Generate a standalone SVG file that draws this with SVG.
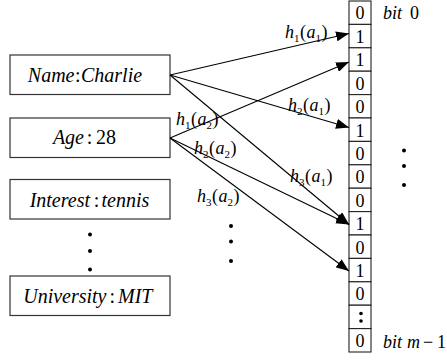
<svg xmlns="http://www.w3.org/2000/svg" width="447" height="360" viewBox="0 0 447 360">
<style>
  .box { fill: #fff; stroke: #333; stroke-width: 1.2; }
  .cell { fill: #fff; stroke: #222; stroke-width: 1.1; }
  .edge { stroke: #000; stroke-width: 1.1; fill: none; marker-end: url(#arr); }
</style>
<defs>
  <marker id="arr" markerUnits="userSpaceOnUse" markerWidth="14" markerHeight="10" refX="13" refY="5" orient="auto">
    <path d="M0,0 L13,5 L0,10 Z" fill="#000"/>
  </marker>
</defs>

<g id="node-name">
  <rect class="box" x="10" y="55" width="160" height="39.5"/>
  <text font-family="Liberation Serif" font-size="20" font-style="italic" x="74.5" y="81.5" text-anchor="end">Name</text>
  <text font-family="Liberation Serif" font-size="20" x="77.8" y="81.5" text-anchor="middle">:</text>
  <text font-family="Liberation Serif" font-size="20" font-style="italic" x="81" y="81.5">Charlie</text>
</g>
<g id="node-age">
  <rect class="box" x="10" y="118" width="160" height="39.5"/>
  <text font-family="Liberation Serif" font-size="20" font-style="italic" x="84" y="143.5" text-anchor="end">Age</text>
  <text font-family="Liberation Serif" font-size="20" x="89.5" y="143.5" text-anchor="middle">:</text>
  <text font-family="Liberation Serif" font-size="20" x="96" y="143.5">28</text>
</g>
<g id="node-interest">
  <rect class="box" x="10" y="179.5" width="160" height="39.5"/>
  <text font-family="Liberation Serif" font-size="20" font-style="italic" x="90" y="206.5" text-anchor="end">Interest</text>
  <text font-family="Liberation Serif" font-size="20" x="96.5" y="206.5" text-anchor="middle">:</text>
  <text font-family="Liberation Serif" font-size="20" font-style="italic" x="101.5" y="206.5">tennis</text>
</g>
<g id="node-university">
  <rect class="box" x="10" y="276" width="160" height="39.5"/>
  <text font-family="Liberation Serif" font-size="20" font-style="italic" x="106.5" y="302.5" text-anchor="end">University</text>
  <text font-family="Liberation Serif" font-size="20" x="112.3" y="302.5" text-anchor="middle">:</text>
  <text font-family="Liberation Serif" font-size="20" font-style="italic" x="118" y="302.5">MIT</text>
</g>

<g id="dots" fill="#000">
  <circle cx="90" cy="234.5" r="2"/>
  <circle cx="90" cy="251" r="2"/>
  <circle cx="90" cy="269.5" r="2"/>
  <circle cx="231" cy="226" r="2"/>
  <circle cx="231" cy="241.5" r="2"/>
  <circle cx="231" cy="261" r="2"/>
  <circle cx="404" cy="150.5" r="2"/>
  <circle cx="404" cy="166" r="2"/>
  <circle cx="404" cy="185" r="2"/>
</g>

<g id="bit-array">
  <rect class="cell" x="349" y="1" width="22" height="23.4"/>
  <rect class="cell" x="349" y="24.4" width="22" height="23.4"/>
  <rect class="cell" x="349" y="47.8" width="22" height="23.4"/>
  <rect class="cell" x="349" y="71.2" width="22" height="23.4"/>
  <rect class="cell" x="349" y="94.6" width="22" height="23.4"/>
  <rect class="cell" x="349" y="118" width="22" height="23.4"/>
  <rect class="cell" x="349" y="141.4" width="22" height="23.4"/>
  <rect class="cell" x="349" y="164.8" width="22" height="23.4"/>
  <rect class="cell" x="349" y="188.2" width="22" height="23.4"/>
  <rect class="cell" x="349" y="211.6" width="22" height="23.4"/>
  <rect class="cell" x="349" y="235" width="22" height="23.4"/>
  <rect class="cell" x="349" y="258.4" width="22" height="23.4"/>
  <rect class="cell" x="349" y="281.8" width="22" height="23.4"/>
  <rect class="cell" x="349" y="305.2" width="22" height="23.4"/>
  <rect class="cell" x="349" y="328.6" width="22" height="23.4"/>
  <text font-family="Liberation Serif" font-size="18" text-anchor="middle" x="360" y="19">0</text>
  <text font-family="Liberation Serif" font-size="18" text-anchor="middle" x="360" y="43">1</text>
  <text font-family="Liberation Serif" font-size="18" text-anchor="middle" x="360" y="66">1</text>
  <text font-family="Liberation Serif" font-size="18" text-anchor="middle" x="360" y="89.5">0</text>
  <text font-family="Liberation Serif" font-size="18" text-anchor="middle" x="360" y="113">0</text>
  <text font-family="Liberation Serif" font-size="18" text-anchor="middle" x="360" y="136.5">1</text>
  <text font-family="Liberation Serif" font-size="18" text-anchor="middle" x="360" y="160">0</text>
  <text font-family="Liberation Serif" font-size="18" text-anchor="middle" x="360" y="183">0</text>
  <text font-family="Liberation Serif" font-size="18" text-anchor="middle" x="360" y="206.5">0</text>
  <text font-family="Liberation Serif" font-size="18" text-anchor="middle" x="360" y="230">1</text>
  <text font-family="Liberation Serif" font-size="18" text-anchor="middle" x="360" y="253.5">0</text>
  <text font-family="Liberation Serif" font-size="18" text-anchor="middle" x="360" y="277">1</text>
  <text font-family="Liberation Serif" font-size="18" text-anchor="middle" x="360" y="300">0</text>
  <text font-family="Liberation Serif" font-size="18" text-anchor="middle" x="360" y="347">0</text>
  <circle cx="361" cy="313.5" r="1.8"/>
  <circle cx="361" cy="321" r="1.8"/>
  <text font-family="Liberation Serif" font-size="18" font-style="italic" x="383" y="19">bit</text>
  <text font-family="Liberation Serif" font-size="18" x="410" y="19">0</text>
  <text font-family="Liberation Serif" font-size="18" font-style="italic" x="383" y="348">bit</text>
  <text font-family="Liberation Serif" font-size="18" font-style="italic" x="407" y="348">m</text>
  <text font-family="Liberation Serif" font-size="18" x="423" y="348">−</text>
  <text font-family="Liberation Serif" font-size="18" x="437" y="348">1</text>
</g>

<g id="connectors">
  <line class="edge" x1="170" y1="75" x2="349" y2="33.5"/>
  <line class="edge" x1="170" y1="75" x2="349" y2="127.5"/>
  <line class="edge" x1="170" y1="75" x2="349" y2="224.5"/>
  <line class="edge" x1="170" y1="138" x2="349" y2="62"/>
  <line class="edge" x1="170" y1="138" x2="349" y2="224.5"/>
  <line class="edge" x1="170" y1="138" x2="349" y2="271"/>
</g>

<g id="edge-labels">
  <g transform="translate(285,38)">
    <text font-family="Liberation Serif" font-size="18" font-style="italic" x="0" y="0">h</text>
    <text font-family="Liberation Serif" font-size="11" x="9" y="4">1</text>
    <text font-family="Liberation Serif" font-size="18" x="15" y="0">(</text>
    <text font-family="Liberation Serif" font-size="18" font-style="italic" x="21.5" y="0">a</text>
    <text font-family="Liberation Serif" font-size="11" x="30.5" y="4">1</text>
    <text font-family="Liberation Serif" font-size="18" x="36.5" y="0">)</text>
  </g>
  <g transform="translate(288,111)">
    <text font-family="Liberation Serif" font-size="18" font-style="italic" x="0" y="0">h</text>
    <text font-family="Liberation Serif" font-size="11" x="9" y="4">2</text>
    <text font-family="Liberation Serif" font-size="18" x="15" y="0">(</text>
    <text font-family="Liberation Serif" font-size="18" font-style="italic" x="21.5" y="0">a</text>
    <text font-family="Liberation Serif" font-size="11" x="30.5" y="4">1</text>
    <text font-family="Liberation Serif" font-size="18" x="36.5" y="0">)</text>
  </g>
  <g transform="translate(290,182)">
    <text font-family="Liberation Serif" font-size="18" font-style="italic" x="0" y="0">h</text>
    <text font-family="Liberation Serif" font-size="11" x="9" y="4">3</text>
    <text font-family="Liberation Serif" font-size="18" x="15" y="0">(</text>
    <text font-family="Liberation Serif" font-size="18" font-style="italic" x="21.5" y="0">a</text>
    <text font-family="Liberation Serif" font-size="11" x="30.5" y="4">1</text>
    <text font-family="Liberation Serif" font-size="18" x="36.5" y="0">)</text>
  </g>
  <g transform="translate(176,125)">
    <text font-family="Liberation Serif" font-size="18" font-style="italic" x="0" y="0">h</text>
    <text font-family="Liberation Serif" font-size="11" x="9" y="4">1</text>
    <text font-family="Liberation Serif" font-size="18" x="15" y="0">(</text>
    <text font-family="Liberation Serif" font-size="18" font-style="italic" x="21.5" y="0">a</text>
    <text font-family="Liberation Serif" font-size="11" x="30.5" y="4">2</text>
    <text font-family="Liberation Serif" font-size="18" x="36.5" y="0">)</text>
  </g>
  <g transform="translate(194,154)">
    <text font-family="Liberation Serif" font-size="18" font-style="italic" x="0" y="0">h</text>
    <text font-family="Liberation Serif" font-size="11" x="9" y="4">2</text>
    <text font-family="Liberation Serif" font-size="18" x="15" y="0">(</text>
    <text font-family="Liberation Serif" font-size="18" font-style="italic" x="21.5" y="0">a</text>
    <text font-family="Liberation Serif" font-size="11" x="30.5" y="4">2</text>
    <text font-family="Liberation Serif" font-size="18" x="36.5" y="0">)</text>
  </g>
  <g transform="translate(197,201.5)">
    <text font-family="Liberation Serif" font-size="18" font-style="italic" x="0" y="0">h</text>
    <text font-family="Liberation Serif" font-size="11" x="9" y="4">3</text>
    <text font-family="Liberation Serif" font-size="18" x="15" y="0">(</text>
    <text font-family="Liberation Serif" font-size="18" font-style="italic" x="21.5" y="0">a</text>
    <text font-family="Liberation Serif" font-size="11" x="30.5" y="4">2</text>
    <text font-family="Liberation Serif" font-size="18" x="36.5" y="0">)</text>
  </g>
</g>
</svg>
